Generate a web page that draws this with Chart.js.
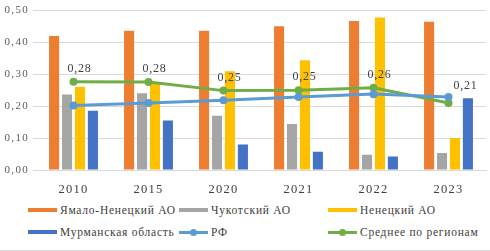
<!DOCTYPE html>
<html>
<head>
<meta charset="utf-8">
<script src="https://cdn.jsdelivr.net/npm/chart.js@4"></script>
<style>
    body { margin: 0; background: #fff; }
    #wrap { position: relative; width: 490px; height: 251px; font-family: 'Liberation Serif', 'Times New Roman', serif; border-bottom: 1px solid #d9d9d9; box-sizing: border-box; }
    #chartBox { position: absolute; left: 0; top: 0; width: 490px; height: 195px; }
    .leg { position: absolute; font-family: 'Liberation Serif'; font-size: 11.5px; letter-spacing: 0.75px; color: #404040; white-space: nowrap; display: flex; align-items: center; }
    .sw { display: inline-block; width: 29px; height: 4px; margin-right: 3px; position: relative; }
    .dot { position: absolute; left: 11px; top: -2px; width: 7px; height: 7px; border-radius: 50%; }
</style>
</head>
<body>
<div id="wrap">
    <div id="chartBox"><canvas id="chart"></canvas></div>
    <div id="legend"></div>
</div>
<script>
// Data
const years = ['2010', '2015', '2020', '2021', '2022', '2023'];
const yamal = [0.42, 0.437, 0.437, 0.451, 0.467, 0.465];
const chukotka = [0.237, 0.241, 0.17, 0.144, 0.048, 0.053];
const nenets = [0.261, 0.27, 0.31, 0.344, 0.478, 0.10];
const murmansk = [0.186, 0.155, 0.08, 0.057, 0.042, 0.225];
const russia = [0.202, 0.21, 0.219, 0.229, 0.238, 0.229];
const average = [0.277, 0.276, 0.249, 0.25, 0.258, 0.21];
const yTicks = [0, 0.05, 0.1, 0.15, 0.2, 0.25, 0.3, 0.35, 0.4, 0.45, 0.5];

const FONT = 'Liberation Serif';
const fmt = v => v.toFixed(2).replace('.', ',');

// The source picture is a bit stretched sideways, so widen the text a little
const wideText = {
    id: 'wideText',
    beforeDraw(chart) { chart.ctx.letterSpacing = '1.3px'; }
};

// Labels above the "average" line
const avgLabels = {
    id: 'avgLabels',
    afterDatasetsDraw(chart) {
        const ctx = chart.ctx;
        const meta = chart.getDatasetMeta(5);
        ctx.save();
        ctx.letterSpacing = '0.8px';
        ctx.font = '12px "' + FONT + '"';
        ctx.fillStyle = '#404040';
        ctx.textAlign = 'center';
        ctx.textBaseline = 'bottom';
        meta.data.forEach((pt, i) => {
            const dx = i === 5 ? 17 : 6;
            const dy = i === 5 ? 11 : 7;
            ctx.fillText(fmt(average[i]), pt.x + dx, pt.y - dy);
        });
        ctx.restore();
    }
};

const barDs = (label, data, color) => ({
    type: 'bar', label, data, backgroundColor: color,
    categoryPercentage: 0.69, barPercentage: 0.78, order: 2
});
const lineDs = (label, data, color) => ({
    type: 'line', label, data, borderColor: color, backgroundColor: color,
    borderWidth: 3, pointRadius: 4, pointBorderWidth: 0, tension: 0, order: 1
});

const datasets = [
    barDs('Ямало-Ненецкий АО', yamal, '#ED7D31'),
    barDs('Чукотский АО', chukotka, '#A5A5A5'),
    barDs('Ненецкий АО', nenets, '#FFC000'),
    barDs('Мурманская область', murmansk, '#4472C4'),
    lineDs('РФ', russia, '#5B9BD5'),
    lineDs('Среднее по регионам', average, '#70AD47')
];

function drawChart() {
    new Chart(document.getElementById('chart').getContext('2d'), {
        data: { labels: years, datasets },
        options: {
            responsive: true,
            maintainAspectRatio: false,
            animation: false,
            layout: { padding: { right: 4, top: 0 } },
            plugins: { legend: { display: false }, tooltip: { enabled: false } },
            scales: {
                x: {
                    grid: { display: false },
                    border: { color: '#d9d9d9' },
                    ticks: { color: '#404040', font: { family: FONT, size: 12.5 }, padding: 4 },
                    afterFit: s => { s.height = 25; }
                },
                y: {
                    min: 0, max: 0.5,
                    afterBuildTicks: s => { s.ticks = yTicks.map(v => ({ value: v })); },
                    grid: { color: '#d9d9d9', tickLength: 3 },
                    border: { display: false },
                    ticks: { color: '#595959', font: { family: FONT, size: 11 }, padding: 4, callback: v => fmt(v) },
                    afterFit: s => { s.width = 36; }
                }
            }
        },
        plugins: [wideText, avgLabels]
    });
}

// HTML legend (three columns, two rows)
const legPos = [[28, 212], [179, 212], [328, 212], [28, 234], [179, 234], [328, 234]];
const legend = document.getElementById('legend');
datasets.forEach((ds, i) => {
    const el = document.createElement('div');
    el.className = 'leg';
    el.style.left = legPos[i][0] + 'px';
    el.style.top = (legPos[i][1] - 8) + 'px';
    const col = ds.type === 'bar' ? ds.backgroundColor : ds.borderColor;
    const sw = document.createElement('span');
    sw.className = 'sw';
    sw.style.background = col;
    if (ds.type === 'line') {
        sw.style.height = '3px';
        const d = document.createElement('span');
        d.className = 'dot';
        d.style.background = col;
        sw.appendChild(d);
    }
    el.appendChild(sw);
    el.appendChild(document.createTextNode(ds.label));
    legend.appendChild(el);
});

document.fonts.load('12px "' + FONT + '"').then(drawChart, drawChart);
</script>
</body>
</html>
